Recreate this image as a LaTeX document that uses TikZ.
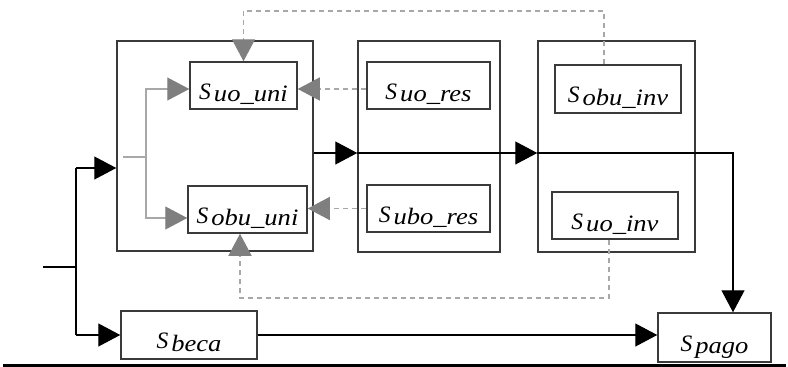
\documentclass[tikz,border=0pt]{standalone}
\usepackage{fontspec}
\setmainfont{Liberation Serif}
\usetikzlibrary{arrows.meta}
\definecolor{boxc}{HTML}{3A3A3A}
\definecolor{gtip}{HTML}{7F7F7F}
\definecolor{gln}{HTML}{A8A8A8}
\newcommand\slbl[1]{\fontsize{23.5}{24}\selectfont\itshape S\kern3pt\raisebox{-2.5pt}{\scalebox{1.13}[1]{#1}}}
\tikzset{
  outerbox/.style={draw=boxc, line width=1.5pt, inner sep=0pt},
  sbox/.style={draw=boxc, line width=1.5pt, inner sep=0pt, text depth=10pt, text height=37pt, align=center},
  arr/.style={-{Triangle[length=22pt,width=23pt]}, line width=1.3pt, black},
  plain/.style={line width=1.3pt, black},
  gline/.style={line width=1.3pt, gln},
  garr/.style={line width=1.3pt, gln, -{Triangle[length=22pt,width=23pt,color=gtip]}},
  darr/.style={line width=1.3pt, gln, dash pattern=on 5pt off 4pt, -{Triangle[length=22pt,width=23pt,color=gtip]}},
}
\begin{document}
\begin{tikzpicture}[x=1pt,y=-1pt]
\useasboundingbox (0,0) rectangle (788,367);
% outer boxes
\node[outerbox, minimum width=196pt, minimum height=210pt] (b1) at (215,146) {};
\node[outerbox, minimum width=142pt, minimum height=211pt] (b2) at (429,146.5) {};
\node[outerbox, minimum width=157pt, minimum height=211pt] (b3) at (616.5,146.5) {};
% inner boxes
\node[sbox, minimum width=107pt, minimum height=47pt] (uouni) at (243.5,85.5) {\slbl{uo\_uni}};
\node[sbox, minimum width=119pt, minimum height=47pt] (obuuni) at (247.5,209.5) {\slbl{obu\_uni}};
\node[sbox, minimum width=123pt, minimum height=47pt] (uores) at (428.5,85.5) {\slbl{uo\_res}};
\node[sbox, minimum width=123pt, minimum height=47pt] (uboRes) at (428.5,208.5) {\slbl{ubo\_res}};
\node[sbox, minimum width=126pt, minimum height=48pt] (obuinv) at (618,89) {\slbl{obu\_inv}};
\node[sbox, minimum width=126pt, minimum height=47pt] (uoinv) at (615,215.5) {\slbl{uo\_inv}};
\node[sbox, minimum width=136pt, minimum height=48pt] (beca) at (189,335) {\slbl{beca}};
\node[sbox, minimum width=113pt, minimum height=49pt] (pago) at (714.5,337.5) {\slbl{pago}};
% input and split
\coordinate (in) at (43,267);
\coordinate (j) at (76,267);
\coordinate (jt) at (76,168);
\coordinate (jb) at (76,335);
\draw[plain] (in) -- (j);
\draw[plain] (jt) -- (jb);
\draw[arr] (jt) -- (jt -| b1.west);
\draw[arr] (jb) -- (beca.west);
\draw[arr] (beca.east) -- (beca.east -| pago.west);
% main flow
\coordinate (ym) at (0,153);
\coordinate (m0) at (b1.east |- ym);
\coordinate (m1) at (b2.west |- ym);
\coordinate (m2) at (b3.west |- ym);
\coordinate (m3) at (733,153);
\draw[arr] (m0) -- (m1);
\draw[arr] (m1) -- (m2);
\draw[arr] (m2) -- (m3) -- (m3 |- pago.north);
% gray internal split
\coordinate (g0) at (123,157);
\coordinate (g1) at (146,157);
\draw[gline] (g0) -- (g1);
\draw[garr] (g1) |- ([yshift=-3.5pt]uouni.west);
\draw[garr] (g1) |- ([yshift=-8.5pt]obuuni.west);
% dashed feedback
\draw[darr] ([yshift=-3.5pt]uores.west) -- ([yshift=-3.5pt]uouni.east);
\draw[darr] (uboRes.west) -- (uboRes.west -| obuuni.east);
\coordinate (topy) at (0,11);
\coordinate (boty) at (0,298);
\coordinate (a) at ([xshift=-14pt]obuinv.north);
\draw[darr] (a) -- (a |- topy) -| (uouni.north);
\coordinate (c) at ([xshift=-6pt]uoinv.south);
\draw[darr] (c) -- (c |- boty) -| ([xshift=-7.5pt]obuuni.south);
% bottom rule
\coordinate (r0) at (3,365.5);
\coordinate (r1) at (786,365.5);
\draw[line width=3pt, black] (r0) -- (r1);
\end{tikzpicture}
\end{document}
